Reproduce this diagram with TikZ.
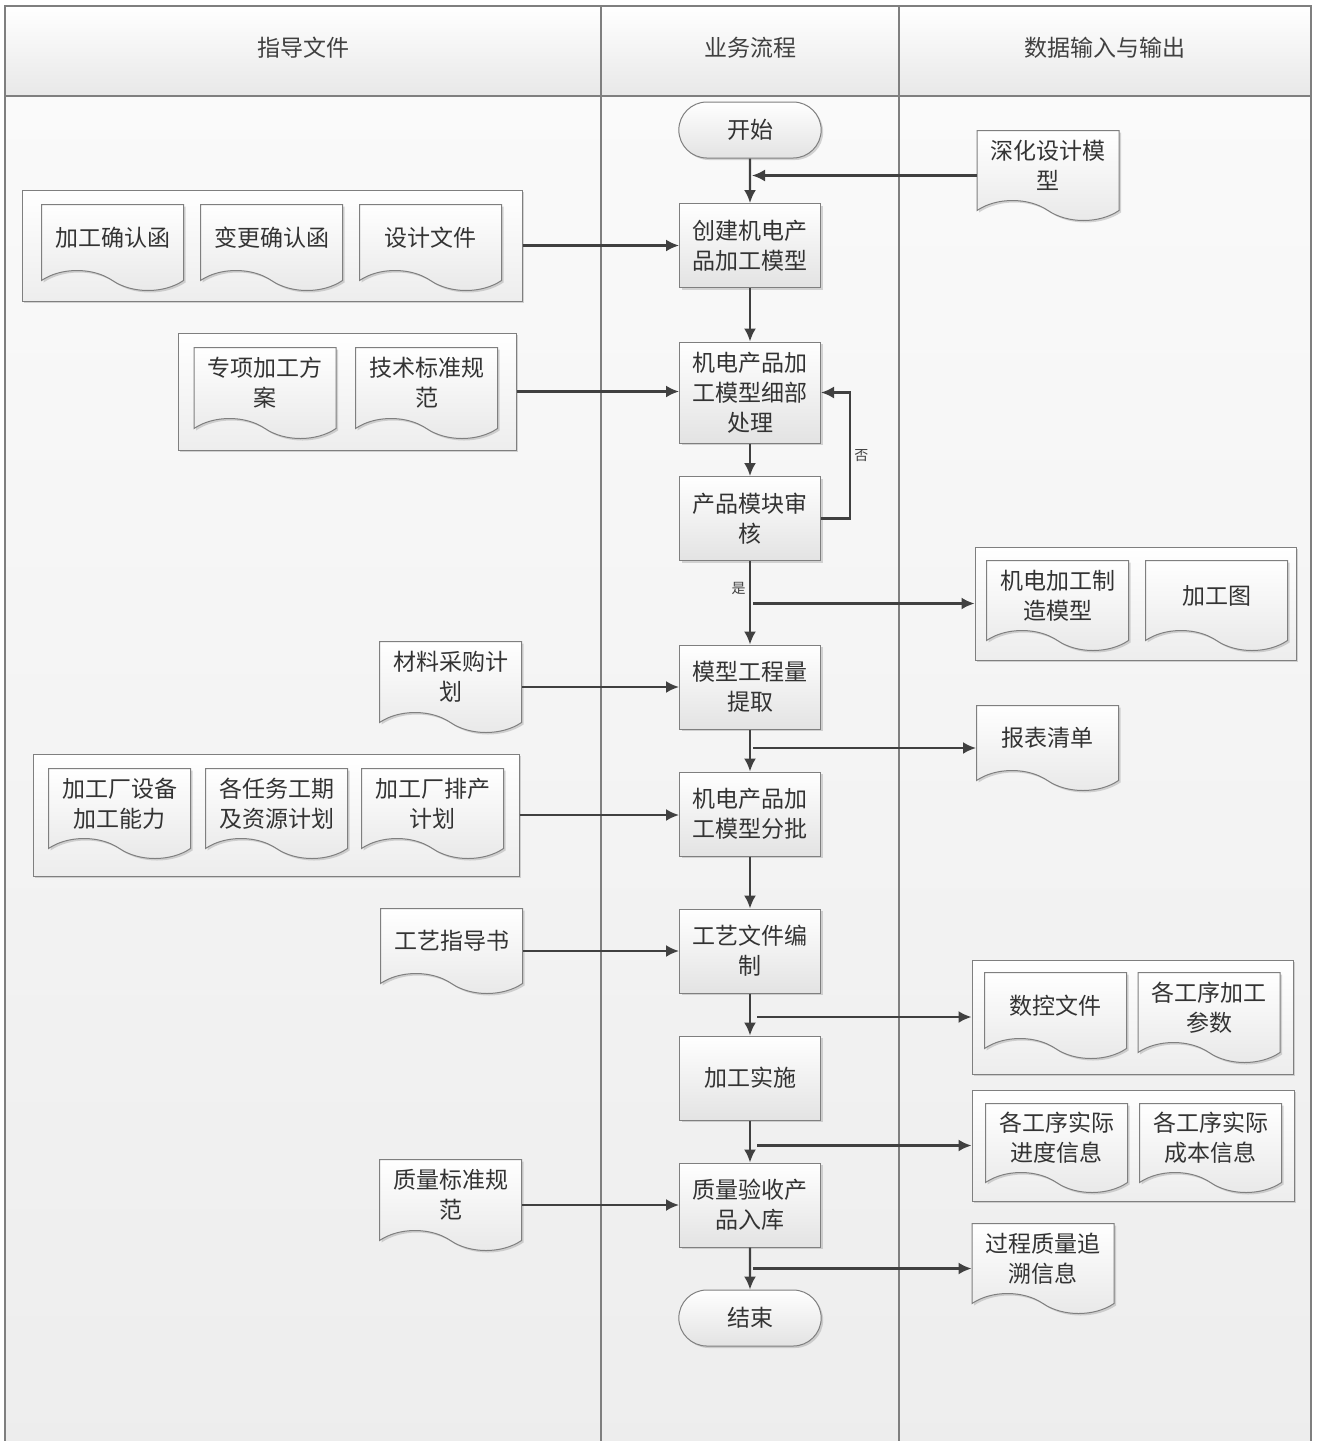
\documentclass[tikz,border=0pt]{standalone}
\usepackage{fontspec}
\setmainfont{Noto Sans CJK SC}
\usetikzlibrary{shapes.misc,shapes.symbols,shadows,arrows.meta}

\definecolor{edge}{HTML}{7F7F7F}
\definecolor{ink}{HTML}{404040}

\tikzset{
  sh/.style={drop shadow={shadow xshift=2pt,shadow yshift=-2pt,opacity=.35,fill=black!45}},
  lane/.style={draw=edge,line width=1.2pt,top color=white!98!black,bottom color=black!7},
  head/.style={draw=edge,line width=1.2pt,top color=white,bottom color=black!9},
  proc/.style={draw=edge,line width=1pt,top color=white,bottom color=black!11,sh,
    minimum width=141pt,minimum height=84pt,align=center,text=ink!80!black},
  term/.style={proc,rounded rectangle,minimum height=56pt,minimum width=149pt},
  doc/.style={tape,tape bend top=none,tape bend bottom=out and in,tape bend height=20pt,
    draw=edge,line width=1pt,top color=white,bottom color=black!9,sh,anchor=north,
    minimum width=142pt,minimum height=88pt,align=center,text=ink!80!black},
  grp/.style={draw=edge,line width=1pt,top color=white,bottom color=black!7,sh},
  flow/.style={draw=ink,line width=2.2pt,-{Latex[length=13pt,width=12pt]}},
  lbl/.style={font=\fontsize{14}{16}\selectfont,text=ink}
}

\begin{document}
\begin{tikzpicture}[x=1pt,y=-1pt,font=\fontsize{23}{30}\selectfont]
\clip (0,0) rectangle (1317,1441);
\useasboundingbox (0,0) rectangle (1317,1441);

% lanes
\draw[lane] (5,96) rectangle (601,1460);
\draw[lane] (601,96) rectangle (899,1460);
\draw[lane] (899,96) rectangle (1311,1460);
\draw[head] (5,6) rectangle (601,96);
\draw[head] (601,6) rectangle (899,96);
\draw[head] (899,6) rectangle (1311,96);
\node[text=ink] (h1) at (303,48) {指导文件};
\node[text=ink] (h2) at (750,48) {业务流程};
\node[text=ink] (h3) at (1105,48) {数据输入与输出};

% process
\node[term] (st) at (750,130) {开始};
\node[proc] (b1) at (750,245.5) {创建机电产\\品加工模型};
\node[proc,minimum height=101pt] (b2) at (750,392.5) {机电产品加\\工模型细部\\处理};
\node[proc] (b3) at (750,518.5) {产品模块审\\核};
\node[proc] (b4) at (750,687) {模型工程量\\提取};
\node[proc] (b5) at (750,814) {机电产品加\\工模型分批};
\node[proc] (b6) at (750,951) {工艺文件编\\制};
\node[proc] (b7) at (750,1078) {加工实施};
\node[proc] (b8) at (750,1205) {质量验收产\\品入库};
\node[term] (en) at (750,1318) {结束};

% guiding documents
\node[grp,minimum width=500pt,minimum height=111pt] (g1) at (272,245.5) {};
\node[doc,minimum height=86pt] (qr) at (112.5,204) {加工确认函};
\node[doc,minimum height=86pt] (bg) at (271.5,204) {变更确认函};
\node[doc,minimum height=86pt] (sj) at (430.5,204) {设计文件};
\node[grp,minimum width=338pt,minimum height=117pt] (g2) at (347,391.5) {};
\node[doc,minimum height=91pt] (zx) at (265,347) {专项加工方\\案};
\node[doc,minimum height=91pt] (jb) at (426.5,347) {技术标准规\\范};
\node[doc,minimum height=91pt] (cg) at (450.5,641) {材料采购计\\划};
\node[grp,minimum width=486pt,minimum height=122pt] (g3) at (276,815) {};
\node[doc,minimum height=90pt] (sb) at (119.5,768) {加工厂设备\\加工能力};
\node[doc,minimum height=90pt] (gq) at (276.5,768) {各任务工期\\及资源计划};
\node[doc,minimum height=90pt] (pc) at (432.5,768) {加工厂排产\\计划};
\node[doc,minimum height=85pt] (zd) at (451.5,908) {工艺指导书};
\node[doc,minimum height=91pt] (zl) at (450.5,1159) {质量标准规\\范};

% data in / out
\node[doc,minimum height=90pt] (shd) at (1048,130) {深化设计模\\型};
\node[grp,minimum width=321pt,minimum height=113pt] (g4) at (1135.5,603.5) {};
\node[doc,minimum height=90pt] (zz) at (1057.5,560) {机电加工制\\造模型};
\node[doc,minimum height=90pt] (jt) at (1216.5,560) {加工图};
\node[doc,minimum height=85pt] (bb) at (1047.5,705) {报表清单};
\node[grp,minimum width=321pt,minimum height=114pt] (g5) at (1132.5,1017) {};
\node[doc,minimum height=86pt] (sk) at (1055.5,972) {数控文件};
\node[doc,minimum height=90pt] (cs) at (1209,972) {各工序加工\\参数};
\node[grp,minimum width=322pt,minimum height=111pt] (g6) at (1133,1145.5) {};
\node[doc,minimum height=89pt] (jd) at (1056.5,1103) {各工序实际\\进度信息};
\node[doc,minimum height=89pt] (cb) at (1210.5,1103) {各工序实际\\成本信息};
\node[doc,minimum height=90pt] (zs) at (1043,1223) {过程质量追\\溯信息};

% connectors
\draw[flow] (st) -- (b1);
\draw[flow] ([yshift=-10pt]shd.west) -- ([xshift=2pt,yshift=-10pt]st.south |- shd.west);
\draw[flow] (g1.east) -- (g1.east -| b1.west);
\draw[flow] (b1) -- (b2);
\draw[flow] (g2.east) -- (g2.east -| b2.west);
\draw[flow] (b2) -- (b3);
\draw[flow] (b3.east) -- ++(29,0) |- node[pos=.25,right,lbl]{否} (b2.east);
\draw[flow] (b3) -- node[pos=.33,left,lbl]{是} (b4);
\draw[flow] ([xshift=3pt]b3.south |- g4.west) -- (g4.west);
\draw[flow] (cg.east |- b4.west) -- (b4.west);
\draw[flow] (b4) -- (b5);
\draw[flow] ([xshift=3pt,yshift=-10pt]b4.south |- bb.west) -- ([yshift=-10pt]bb.west);
\draw[flow] (g3.east) -- (g3.east -| b5.west);
\draw[flow] (b5) -- (b6);
\draw[flow] (zd.east |- b6.west) -- (b6.west);
\draw[flow] (b6) -- (b7);
\draw[flow] ([xshift=7pt]b6.south |- g5.west) -- (g5.west);
\draw[flow] (b7) -- (b8);
\draw[flow] ([xshift=7pt]b7.south |- g6.west) -- (g6.west);
\draw[flow] (zl.east |- b8.west) -- (b8.west);
\draw[flow] (b8) -- (en);
\draw[flow] ([xshift=3pt,yshift=-10pt]b8.south |- zs.west) -- ([yshift=-10pt]zs.west);
\end{tikzpicture}
\end{document}
